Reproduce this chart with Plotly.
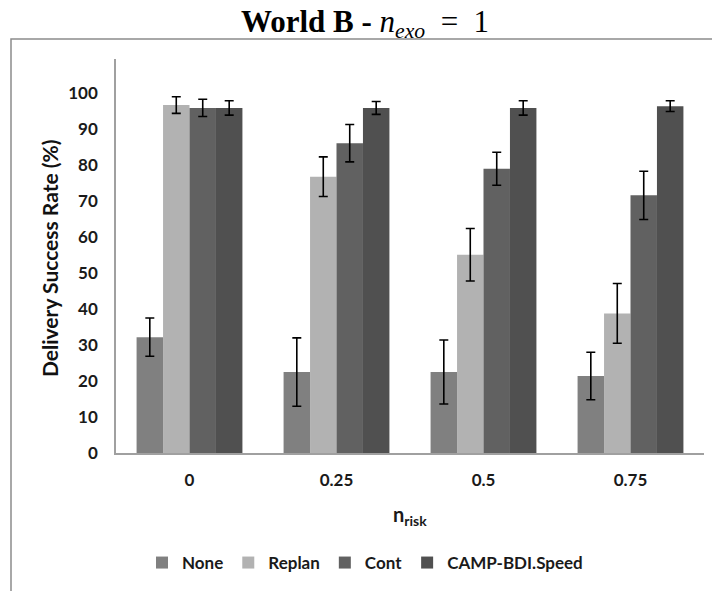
import plotly.graph_objects as go

# n_risk levels on the x axis
categories = ["0", "0.25", "0.5", "0.75"]

# Delivery success rate (%) per strategy, with +/- error
none_vals = [32.2, 22.5, 22.5, 21.4]
none_err = [5.3, 9.5, 8.9, 6.6]
replan_vals = [96.7, 76.8, 55.1, 38.8]
replan_err = [2.3, 5.5, 7.3, 8.3]
cont_vals = [95.9, 86.1, 79.0, 71.6]
cont_err = [2.4, 5.2, 4.6, 6.7]
camp_vals = [95.9, 95.9, 95.9, 96.4]
camp_err = [2.0, 1.8, 2.0, 1.5]

y_ticks = [0, 10, 20, 30, 40, 50, 60, 70, 80, 90, 100]

series = [
    ("None", none_vals, none_err, "#808080"),
    ("Replan", replan_vals, replan_err, "#b2b2b2"),
    ("Cont", cont_vals, cont_err, "#616161"),
    ("CAMP-BDI.Speed", camp_vals, camp_err, "#505050"),
]

label_font = dict(family="Lato", size=17, color="#1a1a1a")

fig = go.Figure()
for name, vals, err, color in series:
    fig.add_trace(go.Bar(
        name=name,
        x=categories,
        y=vals,
        marker=dict(color=color, line=dict(width=0)),
        error_y=dict(type="data", array=err, visible=True,
                     color="#000000", thickness=1.6, width=4.5),
    ))

W, H = 712, 591
L, R, T, B = 116, 8, 59, 138
pw, ph = W - L - R, H - T - B


def px_x(x):
    return (x - L) / pw


def px_y(y):
    return (H - B - y) / ph


fig.update_layout(
    width=W, height=H,
    margin=dict(l=L, r=R, t=T, b=B),
    paper_bgcolor="white", plot_bgcolor="white",
    barmode="group", bargap=0.28, bargroupgap=0,
    title=dict(
        text="<b>World B -</b> <i>n</i><sub><i>exo</i></sub>&nbsp;&nbsp;=&nbsp;&nbsp;1",
        font=dict(family="Liberation Serif", size=31, color="black"),
        x=365 / W, xanchor="center", xref="container",
        y=1 - 21 / H, yanchor="middle", yref="container",
    ),
    xaxis=dict(
        showline=True, linecolor="#a0a0a0", linewidth=1.5,
        showgrid=False, ticks="", ticklabelstandoff=11,
        tickfont=dict(label_font, weight="bold"),
    ),
    yaxis=dict(
        range=[0, 109.5], tickvals=y_ticks,
        showline=True, linecolor="#a0a0a0", linewidth=1.5,
        showgrid=False, zeroline=False, ticks="", ticklabelstandoff=13,
        tickfont=dict(label_font, weight="bold"),
    ),
    legend=dict(
        orientation="h", x=px_x(142), xanchor="left",
        y=px_y(563), yanchor="middle",
        font=dict(label_font, weight="bold"),
        itemwidth=30, traceorder="normal",
    ),
    annotations=[
        dict(text="<b>Delivery Success Rate (%)</b>", textangle=-90,
             xref="paper", yref="paper", x=px_x(49), y=px_y(258),
             xanchor="center", yanchor="middle", showarrow=False,
             font=dict(family="Lato", size=21, color="#111111")),
        dict(text="<b>n<sub>risk</sub></b>",
             xref="paper", yref="paper", x=px_x(410), y=px_y(515),
             xanchor="center", yanchor="middle", showarrow=False,
             font=dict(family="Lato", size=20, color="#1a1a1a")),
    ],
    shapes=[
        dict(type="rect", xref="paper", yref="paper",
             x0=px_x(11), x1=px_x(760), y0=px_y(640), y1=px_y(39),
             line=dict(color="#8c8c8c", width=1.5), layer="below"),
    ],
)

fig.write_html("out.html")
